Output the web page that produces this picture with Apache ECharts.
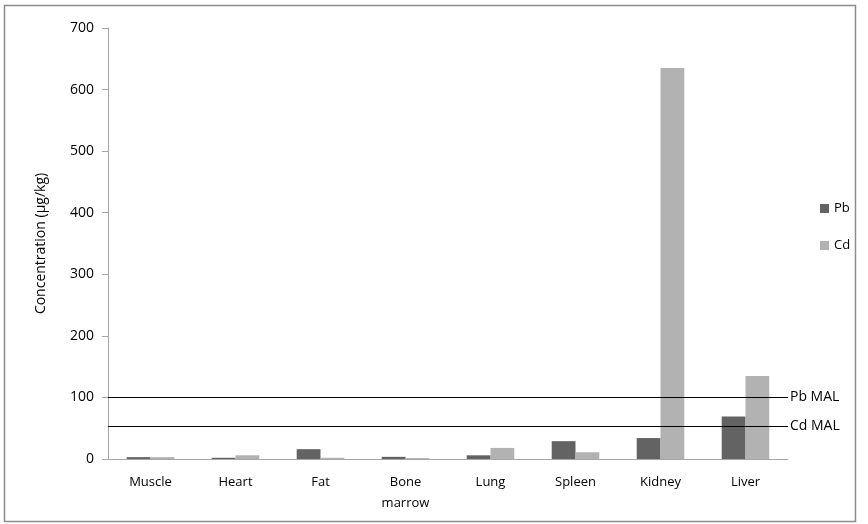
<!DOCTYPE html>
<html>
<head>
<meta charset="utf-8">
<script src="https://cdn.jsdelivr.net/npm/echarts@6/dist/echarts.min.js"></script>
<style>
html,body{margin:0;padding:0;background:#fff;}
#c{width:868px;height:524px;}
</style>
</head>
<body>
<div id="c"></div>
<script>
var categories = ['Muscle', 'Heart', 'Fat', 'Bone\nmarrow', 'Lung', 'Spleen', 'Kidney', 'Liver'];
var pbValues = [3, 2, 16, 3.5, 6, 29, 34, 69];
var cdValues = [3, 6, 2, 1.5, 18, 11, 635, 135];
var malValues = [
  { name: 'Pb MAL', value: 100 },
  { name: 'Cd MAL', value: 53 }
];
var yTicks = { min: 0, max: 700, interval: 100 };

var FONT = 'Open Sans';
var chart = echarts.init(document.getElementById('c'), null, { renderer: 'canvas' });
chart.setOption({
  animation: false,
  backgroundColor: '#fff',
  textStyle: { fontFamily: FONT, color: '#000' },
  graphic: [{
    type: 'rect',
    shape: { x: 4.5, y: 5.5, width: 851, height: 516 },
    style: { fill: 'none', stroke: '#8c8c8c', lineWidth: 1.5 },
    silent: true
  }],
  legend: {
    orient: 'vertical',
    left: 815,
    top: 197,
    itemWidth: 9,
    itemHeight: 9,
    itemGap: 24,
    icon: 'rect',
    textStyle: { fontFamily: FONT, fontSize: 13, color: '#000' },
    data: ['Pb', 'Cd']
  },
  grid: { left: 108, right: 80, top: 28, bottom: 65, containLabel: false },
  xAxis: {
    type: 'category',
    data: categories,
    axisLine: { lineStyle: { color: '#a6a6a6', width: 1 } },
    axisTick: { show: false },
    axisLabel: { fontFamily: FONT, fontSize: 13, color: '#000', margin: 13, lineHeight: 21 }
  },
  yAxis: {
    type: 'value',
    min: yTicks.min,
    max: yTicks.max,
    interval: yTicks.interval,
    name: 'Concentration (µg/kg)',
    nameLocation: 'middle',
    nameGap: 60,
    nameTextStyle: { fontFamily: FONT, fontSize: 14, color: '#000' },
    axisLine: { show: true, lineStyle: { color: '#a6a6a6', width: 1 } },
    axisTick: { show: true, length: 6, lineStyle: { color: '#a6a6a6' } },
    axisLabel: { fontFamily: FONT, fontSize: 14, color: '#000', margin: 14 },
    splitLine: { show: false }
  },
  series: [
    {
      name: 'Pb',
      type: 'bar',
      data: pbValues,
      barGap: '0%',
      barCategoryGap: '44%',
      itemStyle: { color: '#636363' },
      markLine: {
        silent: true,
        symbol: ['none', 'none'],
        lineStyle: { color: '#000', width: 1, type: 'solid' },
        label: {
          show: true,
          position: 'end',
          distance: 2,
          formatter: '{b}',
          fontFamily: FONT,
          fontSize: 14,
          color: '#000'
        },
        data: malValues.map(function (m) { return { name: m.name, yAxis: m.value }; })
      }
    },
    {
      name: 'Cd',
      type: 'bar',
      data: cdValues,
      barGap: '0%',
      barCategoryGap: '44%',
      itemStyle: { color: '#b2b2b2' }
    }
  ]
});
</script>
</body>
</html>
